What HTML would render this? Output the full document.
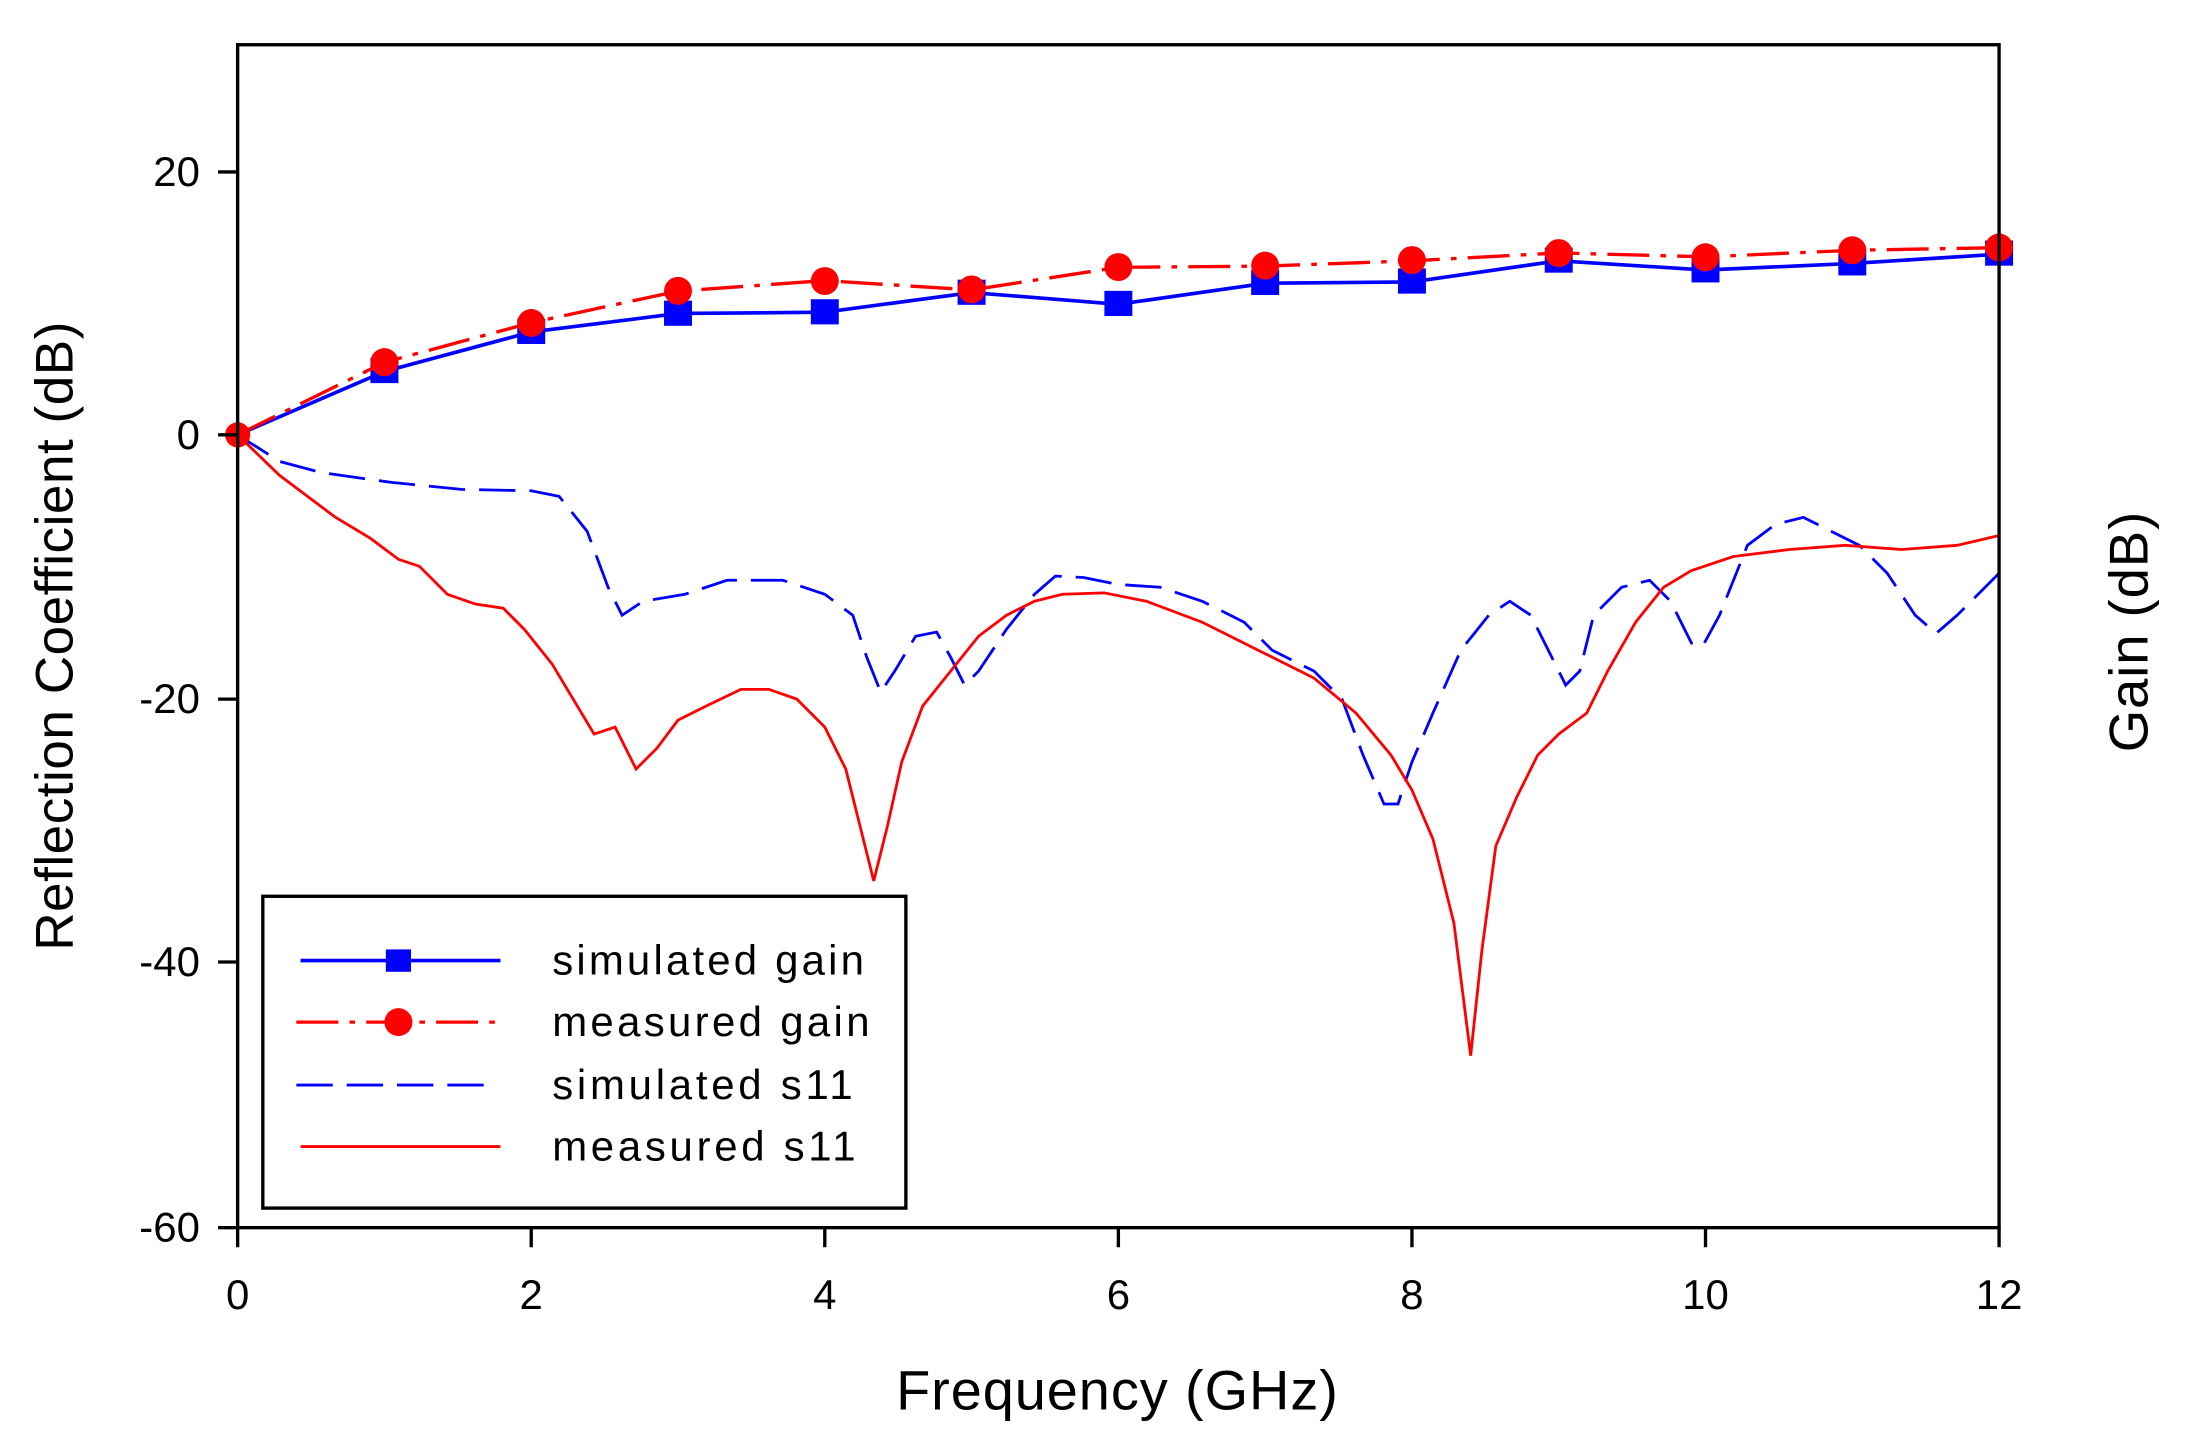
<!DOCTYPE html>
<html><head><meta charset="utf-8"><style>
html,body{margin:0;padding:0;background:#fff;}
svg{display:block;}
text{font-family:"Liberation Sans",Arial,sans-serif;fill:#000;}
</style></head><body>
<svg width="2192" height="1443" viewBox="0 0 1568 1032" preserveAspectRatio="none" xmlns="http://www.w3.org/2000/svg">
<rect x="0" y="0" width="1568" height="1032" fill="#fff"/>
<polyline fill="none" stroke="#0000ff" stroke-width="2" stroke-dasharray="26,10" points="170,311 200,330 230,338 280,345 330,350 380,351 400,355 420,380 435,420 445,440 460,430 490,425 520,415 560,415 590,425 610,440 620,470 630,495 640,480 655,455 670,452 680,470 690,490 700,480 720,450 740,425 755,412 775,413 800,418 830,420 860,430 890,445 910,465 940,480 960,500 975,540 990,575 1000,575 1010,545 1025,510 1045,465 1065,440 1080,430 1095,440 1110,470 1120,490 1130,480 1140,440 1160,420 1180,415 1195,430 1210,460 1218,462 1230,440 1250,390 1270,375 1290,370 1310,380 1330,390 1350,410 1370,440 1385,453 1400,440 1430,410"/>
<polyline fill="none" stroke="#ff0000" stroke-width="2" points="170,311 200,340 240,370 265,385 285,400 300,405 320,425 340,432 360,435 375,450 395,475 410,500 425,525 440,520 455,550 470,535 485,515 505,505 530,493 550,493 570,500 590,520 605,550 615,590 625,630 635,590 645,545 660,505 680,480 700,455 720,440 740,430 760,425 790,424 820,430 860,445 900,465 940,485 970,510 995,540 1010,565 1025,600 1040,660 1052,755 1060,680 1070,605 1085,570 1100,540 1115,525 1135,510 1150,480 1170,445 1190,420 1210,408 1240,398 1280,393 1320,390 1360,393 1400,390 1430,383"/>
<polyline fill="none" stroke="#0000ff" stroke-width="2.6" points="170,311 275,265.7 380,237.4 485,224.2 590,223.3 695,209.2 800,217.6 905,202.6 1010,201.6 1115,186.5 1220,193.1 1325,188.4 1430,181.8"/>
<g fill="#0000ff">
<rect x="265" y="256" width="20" height="18"/><rect x="370" y="228" width="20" height="18"/><rect x="475" y="215" width="20" height="18"/><rect x="580" y="214" width="20" height="18"/><rect x="685" y="200" width="20" height="18"/><rect x="790" y="208" width="20" height="18"/><rect x="895" y="193" width="20" height="18"/><rect x="1000" y="192" width="20" height="18"/><rect x="1105" y="177" width="20" height="18"/><rect x="1210" y="184" width="20" height="18"/><rect x="1315" y="179" width="20" height="18"/><rect x="1420" y="172" width="20" height="18"/>
</g>
<polyline fill="none" stroke="#ff0000" stroke-width="2.4" stroke-dasharray="30,8,4,8" points="170,311 275,259.1 380,230.8 485,208.2 590,200.7 695,207.3 800,191.2 905,190.3 1010,186.5 1115,180.9 1220,183.7 1325,179 1430,177.1"/>
<g fill="#ff0000">
<circle cx="170" cy="311" r="9"/><circle cx="275" cy="259" r="10"/><circle cx="380" cy="231" r="10"/><circle cx="485" cy="208" r="10"/><circle cx="590" cy="201" r="10"/><circle cx="695" cy="207" r="10"/><circle cx="800" cy="191" r="10"/><circle cx="905" cy="190" r="10"/><circle cx="1010" cy="186" r="10"/><circle cx="1115" cy="181" r="10"/><circle cx="1220" cy="184" r="10"/><circle cx="1325" cy="179" r="10"/><circle cx="1430" cy="177" r="10"/>
</g>
<rect x="170" y="32" width="1260" height="846" fill="none" stroke="#000" stroke-width="2.4"/>
<g stroke="#000" stroke-width="2.4">
<line x1="156" y1="123" x2="170" y2="123"/><line x1="156" y1="311" x2="170" y2="311"/><line x1="156" y1="500" x2="170" y2="500"/><line x1="156" y1="688" x2="170" y2="688"/><line x1="156" y1="878" x2="170" y2="878"/>
<line x1="170" y1="878" x2="170" y2="892"/><line x1="380" y1="878" x2="380" y2="892"/><line x1="590" y1="878" x2="590" y2="892"/><line x1="800" y1="878" x2="800" y2="892"/><line x1="1010" y1="878" x2="1010" y2="892"/><line x1="1220" y1="878" x2="1220" y2="892"/><line x1="1430" y1="878" x2="1430" y2="892"/>
</g>
<g font-size="30" text-anchor="end">
<text x="143" y="133">20</text><text x="143" y="321">0</text><text x="143" y="510">-20</text><text x="143" y="698">-40</text><text x="143" y="888">-60</text>
</g>
<g font-size="30" text-anchor="middle">
<text x="170" y="936">0</text><text x="380" y="936">2</text><text x="590" y="936">4</text><text x="800" y="936">6</text><text x="1010" y="936">8</text><text x="1220" y="936">10</text><text x="1430" y="936">12</text>
</g>
<text x="799" y="1008" font-size="40" text-anchor="middle" textLength="316">Frequency (GHz)</text>
<text transform="translate(52,455) rotate(-90)" font-size="38" text-anchor="middle" textLength="450">Reflection Coefficient (dB)</text>
<text transform="translate(1536,452) rotate(-90)" font-size="39" text-anchor="middle" textLength="172">Gain (dB)</text>
<rect x="188" y="641" width="460" height="223" fill="#fff" stroke="#000" stroke-width="2.4"/>
<line x1="215" y1="687" x2="358" y2="687" stroke="#0000ff" stroke-width="2.6"/>
<rect x="276" y="679" width="18" height="16" fill="#0000ff"/>
<line x1="212" y1="731" x2="360" y2="731" stroke="#ff0000" stroke-width="2.4" stroke-dasharray="30,8,4,8"/>
<circle cx="285" cy="731" r="10" fill="#ff0000"/>
<line x1="212" y1="776" x2="350" y2="776" stroke="#0000ff" stroke-width="2" stroke-dasharray="26,10"/>
<line x1="215" y1="820" x2="358" y2="820" stroke="#ff0000" stroke-width="2"/>
<g font-size="30">
<text x="395" y="697" textLength="223">simulated gain</text>
<text x="395" y="741" textLength="227">measured gain</text>
<text x="395" y="786" textLength="215">simulated s11</text>
<text x="395" y="830" textLength="217">measured s11</text>
</g>
</svg>
</body></html>
